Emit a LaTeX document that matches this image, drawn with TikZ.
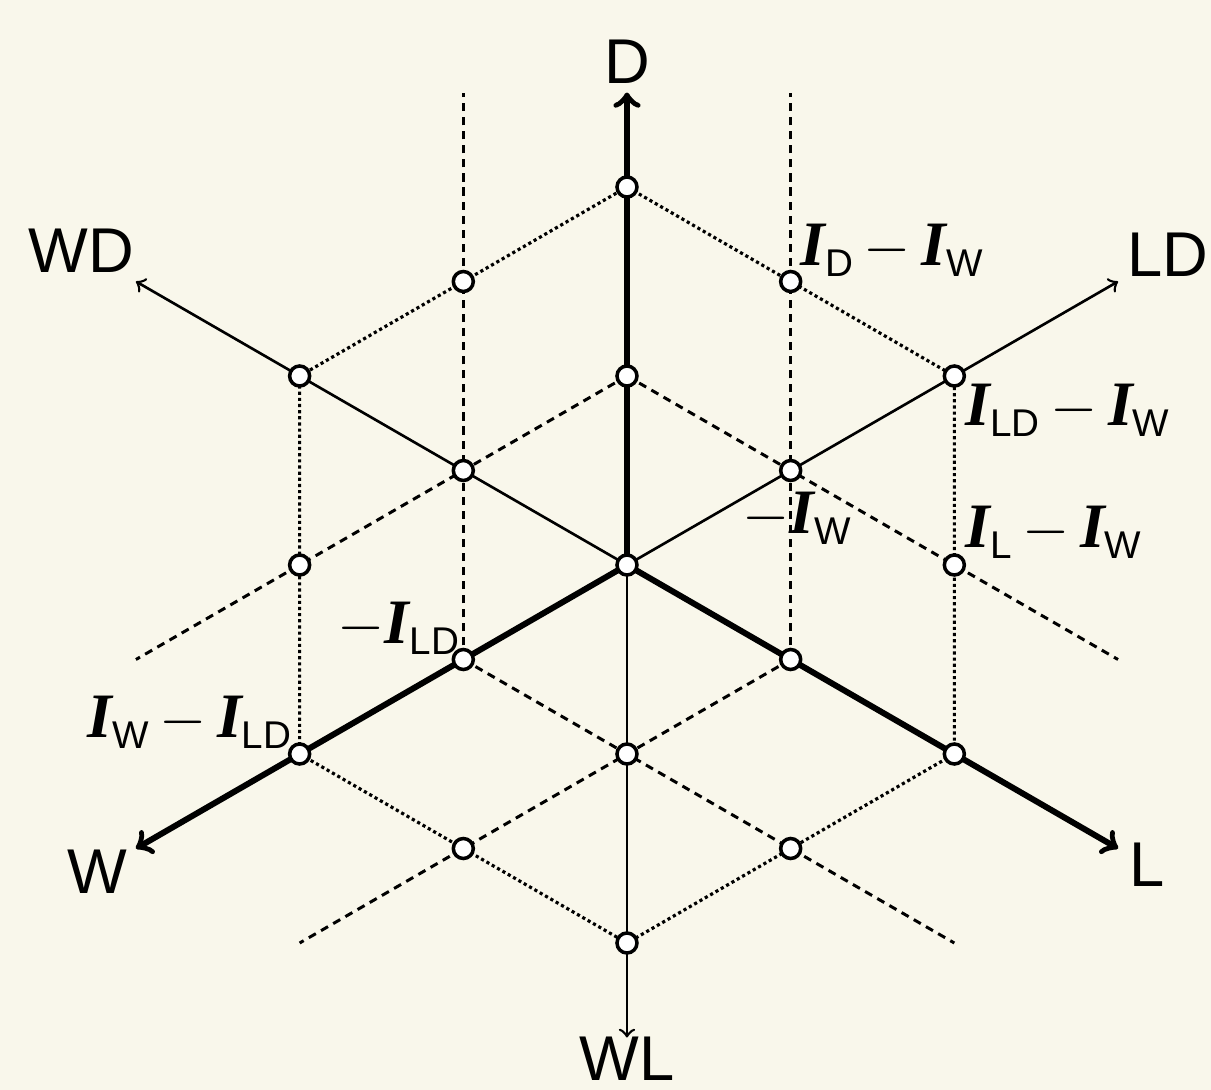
\documentclass[tikz,border=0pt]{standalone}
\usepackage{fontspec}
\setmainfont{Liberation Sans}
\newfontfamily\serifI{Liberation Serif}
\definecolor{paper}{RGB}{249,247,235}
\newcommand{\Iq}[1]{{\serifI\bfseries\itshape I}\raisebox{-3.4pt}{\fontsize{11}{12}\selectfont #1}}
\newcommand{\mminus}{\,$-$\,}

\tikzset{
  axis/.style={line width=0.75pt,->},
  mainaxis/.style={line width=1.7pt,->,line cap=round},
  dashline/.style={line width=0.85pt,dash pattern=on 2.3pt off 1.7pt},
  dotline/.style={line width=0.9pt,dash pattern=on 0.9pt off 0.85pt},
  lpt/.style={circle,draw,fill=white,line width=1pt,minimum size=0.2cm,inner sep=0pt},
  axlabel/.style={anchor=base,inner sep=0pt,font=\fontsize{18}{20}\selectfont},
  vlabel/.style={anchor=base west,inner sep=0pt,font=\fontsize{18}{20}\selectfont},
}

\begin{document}
\begin{tikzpicture}[x={(1.6368cm,0)},y={(0,1.89cm)}]
  \fill[paper] (-6.27cm,-5.25cm) rectangle (5.84cm,5.65cm);
  \useasboundingbox (-6.27cm,-5.25cm) rectangle (5.84cm,5.65cm);

  \foreach \n/\x/\y in {d2/0/2, dwd/-1/1.5, dld/1/1.5, wd2/-2/1, d1/0/1, ld2/2/1,
      wd1/-1/0.5, ld1/1/0.5, wwd/-2/0, o/0/0, lld/2/0, w1/-1/-0.5, l1/1/-0.5,
      w2/-2/-1, wl1/0/-1, l2/2/-1, wwl/-1/-1.5, lwl/1/-1.5, wl2/0/-2}
    \coordinate (\n) at (\x,\y);

  \coordinate (Dtip) at (0,2.5);
  \coordinate (WLtip) at (0,-2.5);
  \coordinate (Ltip) at (3,-1.5);
  \coordinate (Wtip) at (-3,-1.5);
  \coordinate (LDtip) at (3,1.5);
  \coordinate (WDtip) at (-3,1.5);
  \coordinate (ta) at (-1,2.5);
  \coordinate (tb) at (1,2.5);
  \coordinate (tc) at (-3,-0.5);
  \coordinate (td) at (3,-0.5);
  \coordinate (te) at (-2,-2);
  \coordinate (tf) at (2,-2);

  \draw[dotline] (d2) -- (dwd) -- (wd2) -- (wwd) -- (w2) -- (wwl) -- (wl2)
    -- (lwl) -- (l2) -- (lld) -- (ld2) -- (dld) -- cycle;

  \draw[dashline] (w1) -- (wd1) -- (dwd) -- (ta);
  \draw[dashline] (l1) -- (ld1) -- (dld) -- (tb);
  \draw[dashline] (d1) -- (wd1) -- (wwd) -- (tc);
  \draw[dashline] (d1) -- (ld1) -- (lld) -- (td);
  \draw[dashline] (l1) -- (wl1) -- (wwl) -- (te);
  \draw[dashline] (w1) -- (wl1) -- (lwl) -- (tf);

  \draw[axis] (o) -- (WDtip);
  \draw[axis] (o) -- (LDtip);
  \draw[axis] (o) -- (WLtip);
  \draw[mainaxis] (o) -- (Dtip);
  \draw[mainaxis] (o) -- (Ltip);
  \draw[mainaxis] (o) -- (Wtip);

  \foreach \n in {d2, dwd, dld, wd2, d1, ld2, wd1, ld1, wwd, o, lld, w1, l1,
      w2, wl1, l2, wwl, lwl, wl2}
    \node[lpt] (\n-pt) at (\n) {};

  \node[axlabel] (labD) at (0cm,4.82cm) {D};
  \node[axlabel] (labWD) at (-5.46cm,2.93cm) {WD};
  \node[axlabel] (labLD) at (5.41cm,2.89cm) {LD};
  \node[axlabel] (labW) at (-5.30cm,-3.28cm) {W};
  \node[axlabel] (labL) at (5.20cm,-3.21cm) {L};
  \node[axlabel] (labWL) at (0cm,-5.15cm) {WL};

  \node[vlabel] (vDW) at (1.73cm,3.00cm) {\Iq{D}\mminus\Iq{W}};
  \node[vlabel] (vLDW) at (3.38cm,1.40cm) {\Iq{LD}\mminus\Iq{W}};
  \node[vlabel] (vLW) at (3.38cm,0.18cm) {\Iq{L}\mminus\Iq{W}};
  \node[vlabel] (vmW) at (1.15cm,0.32cm) {$-$\Iq{W}};
  \node[vlabel] (vmLD) at (-2.90cm,-0.78cm) {$-$\Iq{LD}};
  \node[vlabel] (vWLD) at (-5.40cm,-1.72cm) {\Iq{W}\mminus\Iq{LD}};
\end{tikzpicture}
\end{document}
